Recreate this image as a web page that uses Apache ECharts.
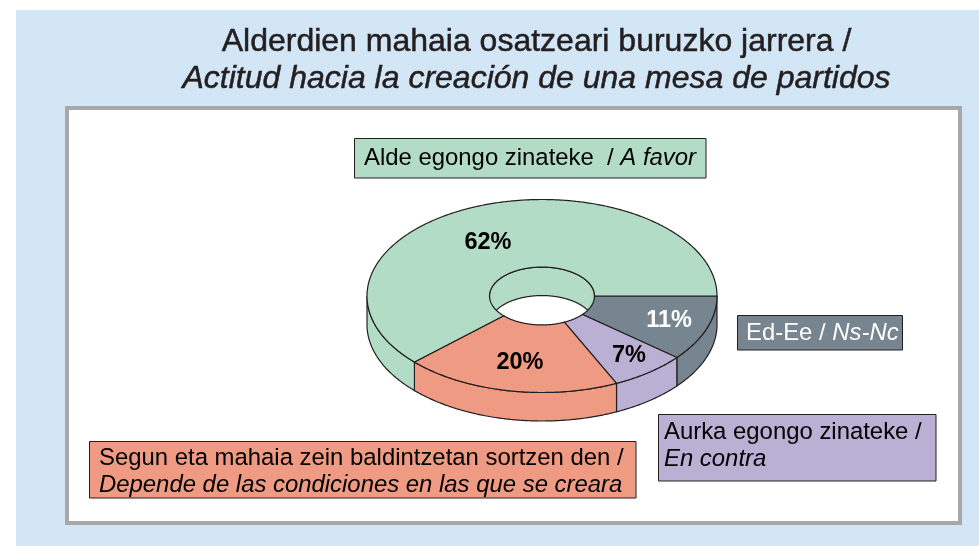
<!DOCTYPE html>
<html><head><meta charset="utf-8">
<style>html,body{margin:0;padding:0;background:#fff}#c{width:979px;height:546px}</style>
<script src="https://cdn.jsdelivr.net/npm/echarts@6/dist/echarts.min.js"></script>
</head><body><div id="c"></div>
<script>
// ---- data (clockwise from the 3 o'clock position) ----
var sliceKeys = ['nsnc', 'contra', 'depende', 'favor'];
var shares = [11, 7, 20, 62];
var titleLines = ['Alderdien mahaia osatzeari buruzko jarrera /', 'Actitud hacia la creación de una mesa de partidos'];
var legendBasque = ['Ed-Ee /', 'Aurka egongo zinateke /', 'Segun eta mahaia zein baldintzetan sortzen den /', 'Alde egongo zinateke  /'];
var legendSpanish = ['Ns-Nc', 'En contra', 'Depende de las condiciones en las que se creara', 'A favor'];

// ---- styling / layout ----
var FONT = '"Liberation Sans", Arial, sans-serif';
var colors = ['#76858f', '#bab0d4', '#ef9b84', '#b3dcc7'];
var labelColors = ['#ffffff', '#000000', '#000000', '#000000'];
var LINE = '#231f20';
var PIE = {cx: 542, cy: 296, rx: 175, ry: 96.5, hole: 0.3, depth: 28.5};
var labelPos = [[669, 321], [629, 356], [520, 363], [488, 243]];
var boxes = [
  {x: 737, y: 315, w: 165, h: 34.5, tx: 746, ty: 333, fill: '#ffffff', two: false},
  {x: 658, y: 414, w: 277.5, h: 66.5, tx: 664, ty: 446, fill: '#000000', two: true},
  {x: 89, y: 441, w: 546.5, h: 56.5, tx: 99, ty: 472, fill: '#000000', two: true},
  {x: 354, y: 138, w: 351.5, h: 39.5, tx: 364, ty: 158, fill: '#000000', two: false}
];

function startAngle(i) {
  var total = 0, before = 0;
  shares.forEach(function (v, k) { total += v; if (k < i) before += v; });
  return before / total * 360;
}
function pt(a, f, dy) {
  var r = a * Math.PI / 180;
  return [PIE.cx + PIE.rx * f * Math.cos(r), PIE.cy + PIE.ry * f * Math.sin(r) + dy];
}
function arc(a, b, f, dy) {
  var out = [], n = Math.max(2, Math.ceil(Math.abs(b - a) * 2));
  for (var k = 0; k <= n; k++) out.push(pt(a + (b - a) * k / n, f, dy));
  return out;
}
function sliceRange(i, api) {
  var total = shares.reduce(function (s, v) { return s + v; }, 0);
  var a0 = startAngle(i);
  return [a0, a0 + api.value(0) / total * 360];
}
function wall(lo, hi, f, params, api) {
  var r = sliceRange(params.dataIndex, api);
  var a = Math.max(r[0], lo), b = Math.min(r[1], hi);
  if (b <= a) return {type: 'group', children: []};
  return {type: 'polygon',
    shape: {points: arc(a, b, f, 0).concat(arc(b, a, f, PIE.depth))},
    style: {fill: colors[params.dataIndex], stroke: LINE, lineWidth: 1.2}};
}
var seriesData = shares.map(function (v, i) { return {name: sliceKeys[i], value: [v]}; });

var chart = echarts.init(document.getElementById('c'), null, {renderer: 'canvas'});
var graphics = [
  {type: 'rect', z: 0, shape: {x: 16, y: 10, width: 963, height: 536}, style: {fill: '#d2e6f5'}},
  {type: 'rect', z: 0, shape: {x: 67, y: 108, width: 893, height: 415}, style: {fill: '#ffffff', stroke: '#a8a8a8', lineWidth: 4}}
];
boxes.forEach(function (b, i) {
  graphics.push({type: 'rect', z: 5, shape: {x: b.x + .5, y: b.y + .5, width: b.w, height: b.h},
    style: {fill: colors[i], stroke: LINE, lineWidth: 1}});
  graphics.push({type: 'text', z: 6, x: b.tx, y: b.ty, style: {
    text: legendBasque[i] + (b.two ? '\n' : ' ') + '{i|' + legendSpanish[i] + '}',
    font: '23.9px ' + FONT, fill: b.fill, verticalAlign: 'middle', lineHeight: 27,
    rich: {i: {fontStyle: 'italic', fontSize: 23.9, fontFamily: FONT, fill: b.fill, lineHeight: 27}}
  }});
});

chart.setOption({
  animation: false,
  backgroundColor: '#ffffff',
  title: {
    text: titleLines[0] + '\n{i|' + titleLines[1] + '}',
    left: 531.5, top: 19, textAlign: 'center',
    textStyle: {fontFamily: FONT, fontSize: 32, fontWeight: 'normal', color: '#231f20', lineHeight: 37,
      textBorderColor: '#231f20', textBorderWidth: 0.5,
      rich: {i: {fontFamily: FONT, fontSize: 32, fontStyle: 'italic', color: '#231f20', lineHeight: 37,
        textBorderColor: '#231f20', textBorderWidth: 0.5}}}
  },
  graphic: graphics,
  series: [
    {type: 'custom', coordinateSystem: 'none', z: 2, silent: true, data: seriesData,
      renderItem: function (p, api) { return wall(0, 180, 1, p, api); }},
    {type: 'custom', coordinateSystem: 'none', z: 3, silent: true, data: seriesData,
      renderItem: function (p, api) { return wall(180, 360, PIE.hole, p, api); }},
    {type: 'custom', coordinateSystem: 'none', z: 4, silent: true, data: seriesData,
      renderItem: function (p, api) {
        var r = sliceRange(p.dataIndex, api);
        return {type: 'polygon',
          shape: {points: arc(r[0], r[1], 1, 0).concat(arc(r[1], r[0], PIE.hole, 0))},
          style: {fill: colors[p.dataIndex], stroke: LINE, lineWidth: 1.2}};
      }},
    {type: 'custom', coordinateSystem: 'none', z: 5, silent: true, data: seriesData,
      renderItem: function (p, api) {
        return {type: 'text', x: labelPos[p.dataIndex][0], y: labelPos[p.dataIndex][1],
          style: {text: api.value(0) + '%', font: 'bold 23.5px ' + FONT, fill: labelColors[p.dataIndex],
            align: 'center', verticalAlign: 'middle'}};
      }}
  ]
});
</script></body></html>
